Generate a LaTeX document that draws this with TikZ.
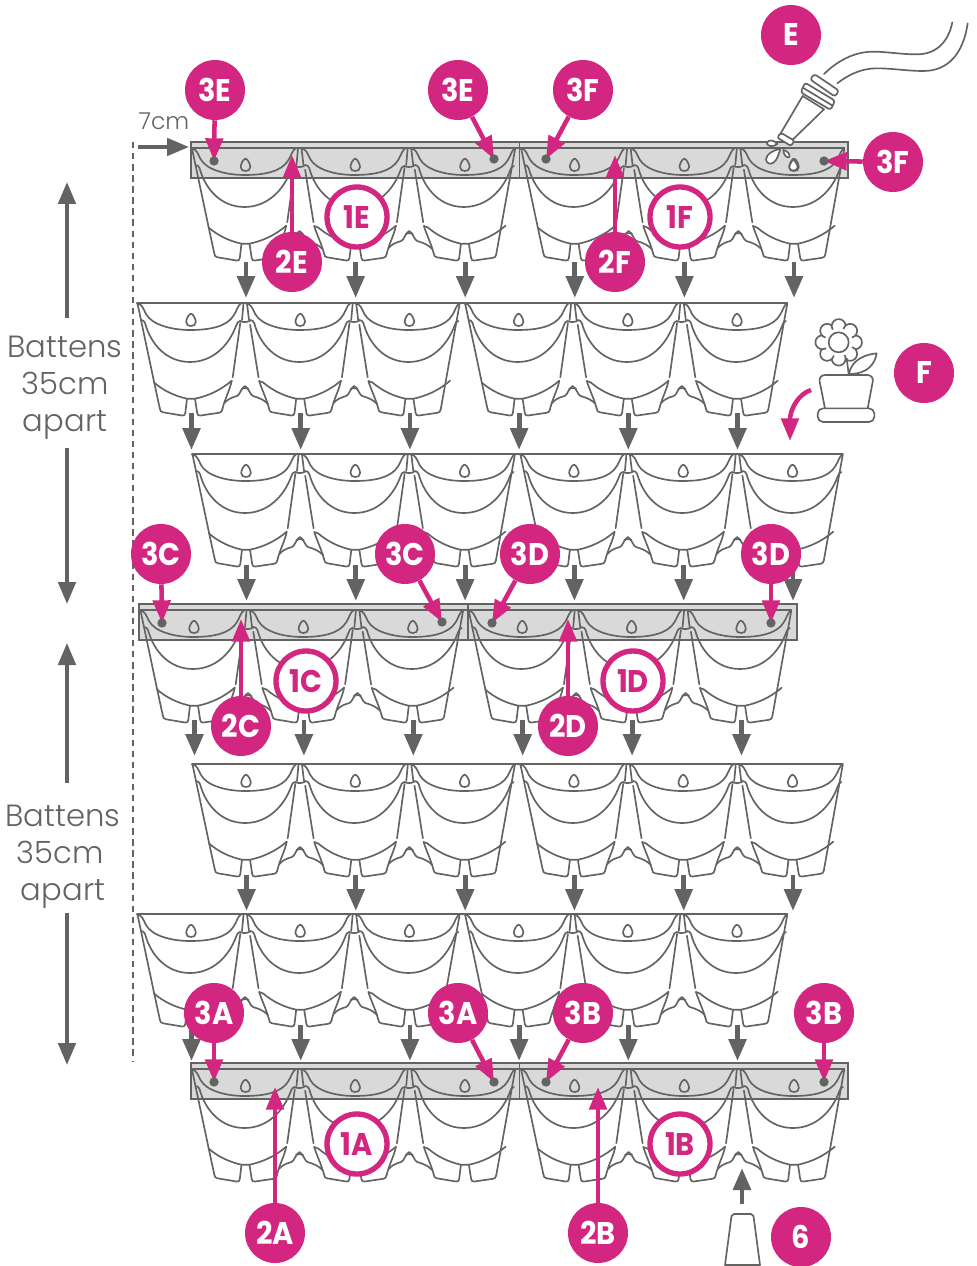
\documentclass[tikz,border=0pt]{standalone}
\usepackage{fontspec}
\setmainfont{Poppins Light}
\newfontfamily\labfont{Poppins}[FakeStretch=0.92]
\usetikzlibrary{arrows.meta}
\definecolor{pk}{HTML}{D22680}
\definecolor{gy}{HTML}{636362}
\definecolor{bt}{HTML}{D9D9D9}
\pgfdeclarelayer{holes}
\pgfsetlayers{main,holes}
\tikzset{
 pline/.style={draw=gy,line width=1.25pt,line join=round,line cap=round},
 batten/.style={draw=gy,fill=bt,line width=1.5pt},
 downarrow/.style={-{Triangle[length=16.5pt,width=13pt]},line width=3.6pt,gy},
 bigarrow/.style={-{Triangle[length=16.5pt,width=13pt]},line width=3pt,gy},
 pinkarrow/.style={-{Triangle[length=17pt,width=13pt]},line width=3.4pt,pk},
 lab/.style={circle,fill=pk,text=white,minimum size=45pt,inner sep=0pt,font=\labfont\bfseries\fontsize{23.5}{23.5}\selectfont},
 ring/.style={circle,draw=pk,fill=white,text=pk,line width=4pt,minimum size=45pt,inner sep=0pt,font=\labfont\bfseries\fontsize{23.5}{23.5}\selectfont},
 hole/.style={circle,fill=gy,minimum size=7pt,inner sep=0pt},
 gtext/.style={text=gy,font=\fontsize{23}{23}\selectfont,inner sep=0pt,anchor=base},
}
\newcommand\pocketcommon{%
 \draw[pline] (0,0.5) .. controls (5,1) and (6,5) .. (9,11) .. controls (15,22) and (35,27) .. (53,27)
   .. controls (72,27) and (90,24) .. (97,12) .. controls (100,7) and (101,2) .. (104,0.5);
 \draw[pline] (4,17) .. controls (6,17) and (7,18) .. (8,20) .. controls (14,42) and (30,59) .. (53,59)
   .. controls (76,59) and (92,42) .. (99,23) .. controls (100,20) and (101,18) .. (103,18);
 \draw[pline] (54,10.7) .. controls (56,10.7) and (58.8,16) .. (58.8,19) .. controls (58.8,22) and (56.5,23) .. (54,23)
   .. controls (51.5,23) and (49.2,22) .. (49.2,19) .. controls (49.2,16) and (52,10.7) .. (54,10.7) -- cycle;
 \draw[pline] (22.7,105) .. controls (23,108) and (24,109) .. (26,109.3) -- (45,112.5) .. controls (47,112.8) and (48,112) .. (48.3,110) -- (50,95.7) -- (58,95.7) -- (60.2,110)
   .. controls (60.5,112) and (61.5,112.8) .. (63.5,112.5) -- (82,109.8) .. controls (84,109.5) and (85,108.5) .. (85.3,106.5);
 \draw[pline] (50,95.7) .. controls (38,93) and (27,88) .. (17,79.5);
 \draw[pline] (58,95.7) .. controls (71,93) and (84,87) .. (94.7,77.7);
}
\newcommand\pocketleftend{%
 \draw[pline] (0.5,0.5) -- (17.3,80) -- (22.7,105);
}
\newcommand\pocketleftinner{%
 \draw[pline] (3.9,21.7) -- (12.3,74.3);
 \draw[pline] (13,78) .. controls (15,85) and (20,95) .. (22.7,105);
 \draw[pline] (13,78) -- (17,79.5);
}
\newcommand\pocketrightend{%
 \draw[pline] (104.3,0.5) -- (85.3,106.5);
}
\newcommand\pocketrightinner{%
 \draw[pline] (103.3,20) -- (95.7,74.3);
 \draw[pline] (94.7,77.7) .. controls (93,87) and (88,95) .. (85.3,106.5);
 \draw[pline] (106.5,0.5) -- (105,17);
 \draw[pline] (110,0.5) -- (112,17);
 \draw[pline] (103,18) .. controls (106,19.5) and (110,19.5) .. (113.4,17.5);
 \draw[pline] (87.5,100) .. controls (90,97) and (93,95) .. (100,93) .. controls (103,92) and (104,85) .. (108,83)
   .. controls (112,85) and (113,92) .. (116,93) .. controls (123,95) and (127,97) .. (131,101);
 \draw[pline] (104.5,86) .. controls (106,85) and (110,85) .. (111.5,86);
}
% x0, y0, step
\newcommand\pocketrow[3]{%
 \draw[pline] (#1,#2) -- ({#1+5*#3+104.3},#2);
 \foreach \i in {0,...,5}{
  \begin{scope}[shift={({#1+\i*#3},#2)}]
   \pocketcommon
   \ifnum\i=0 \pocketleftend\else\ifnum\i=3 \pocketleftend\else\pocketleftinner\fi\fi
   \ifnum\i=2 \pocketrightend\else\ifnum\i=5 \pocketrightend\else\pocketrightinner\fi\fi
  \end{scope}
 }
}
\newcommand\battenbar[2]{%
 \draw[batten] (#1-1,#2-6) rectangle (#1+656.5,#2+30);
 \draw[pline] (#1+328,#2-6) -- (#1+328,#2+30);
}
% x0, y start, y end, name, step
\newcommand\rowarrows[5]{%
 \foreach \i in {0,...,5}{
  \coordinate (s#4\i) at ({#1+54.5+\i*#5},#2);
  \coordinate (e#4\i) at ({#1+54.5+\i*#5},#3);
  \draw[downarrow] (s#4\i) -- (e#4\i);
 }
}
\begin{document}
\begin{tikzpicture}[x=0.75pt,y=-0.75pt]
\useasboundingbox (0,0) rectangle (976,1266);
% battens
\battenbar{191.5}{148}
\battenbar{140}{610}
\battenbar{191.5}{1069}
% pockets
\pocketrow{191.5}{148}{109.7}
\pocketrow{137}{303}{109.2}
\pocketrow{192}{454}{109.3}
\pocketrow{140}{610}{109.4}
\pocketrow{192}{764}{109.3}
\pocketrow{137}{914}{109.2}
\pocketrow{191.5}{1069}{109.7}
% down arrows
\rowarrows{191.5}{262}{298}{a}{109.6}
\rowarrows{137}{413}{450}{b}{109.2}
\rowarrows{192}{565}{601}{c}{109.3}
\rowarrows{140}{720}{756}{d}{109.4}
\rowarrows{192}{875}{911}{e}{109.3}
\rowarrows{137}{1025}{1061}{f}{109.2}
% dashed datum
\coordinate (dt) at (133,142);
\coordinate (db) at (133,1062);
\draw[gy,line width=1.6pt,dash pattern=on 4.8pt off 3.5pt] (dt) -- (db);
% 7cm
\node[gtext,font=\fontsize{17.5}{17.5}\selectfont] (sevencm) at (164,130) {7cm};
\coordinate (sevena) at (138,147);
\coordinate (sevenb) at (189,147);
\draw[bigarrow] (sevena) -- (sevenb);
% batten text
\node[gtext] (t1a) at (65,357) {Battens};
\node[gtext] (t1b) at (65,394) {35cm};
\node[gtext] (t1c) at (65,431) {apart};
\node[gtext] (t2a) at (63,826) {Battens};
\node[gtext] (t2b) at (60,863) {35cm};
\node[gtext] (t2c) at (63,900) {apart};
\coordinate (g1a) at (67,318); \coordinate (g1b) at (67,182);
\coordinate (g2a) at (67,448); \coordinate (g2b) at (67,604);
\coordinate (g3a) at (67,783); \coordinate (g3b) at (67,643);
\coordinate (g4a) at (67,913); \coordinate (g4b) at (67,1065);
\draw[bigarrow] (g1a) -- (g1b);
\draw[bigarrow] (g2a) -- (g2b);
\draw[bigarrow] (g3a) -- (g3b);
\draw[bigarrow] (g4a) -- (g4b);
% hose
\begin{scope}[shift={(700,0)},x=0.25pt,y=-0.25pt]
 \draw[pline] (757,67) .. controls (745,125) and (710,163) .. (650,163) .. controls (600,163) and (560,155) .. (520,155) .. controls (460,155) and (410,185) .. (372,222);
 \draw[pline] (803,70) .. controls (790,160) and (745,213) .. (670,213) .. controls (620,213) and (580,205) .. (530,205) .. controls (490,205) and (450,220) .. (412,250);
 \draw[pline,fill=white] (200,430) .. controls (205,418) and (220,418) .. (232,432) .. controls (222,440) and (205,442) .. (200,430) -- cycle;
 \draw[pline,fill=white] (241,447) .. controls (225,448) and (198,462) .. (198,478) .. controls (198,490) and (212,495) .. (220,488) .. controls (232,480) and (236,462) .. (241,447) -- cycle;
 \draw[pline,fill=white] (250,450) .. controls (258,450) and (272,462) .. (268,471) .. controls (262,476) and (250,465) .. (250,450) -- cycle;
 \draw[pline,fill=white] (280,477) .. controls (275,485) and (267,495) .. (268,503) .. controls (270,515) and (292,515) .. (293,502) .. controls (293,495) and (286,485) .. (280,477) -- cycle;
\end{scope}
\begin{scope}[shift={(760,60)},x=0.25pt,y=-0.25pt]
 \draw[pline,fill=white] (128,108) -- (62,220) -- (97,240) -- (192,148) -- cycle;
 \draw[pline,fill=white,rounded corners=1.5pt] (62,218) -- (103,242) -- (93,258) -- (52,233) -- cycle;
 \draw[pline,fill=white,rounded corners=2pt] (150,58) -- (163,42) -- (237,92) -- (225,110) -- cycle;
 \draw[pline,fill=white,rounded corners=2pt] (135,68) -- (225,122) -- (212,150) -- (122,97) -- cycle;
 \draw[pline] (130,84) -- (218,137);
\end{scope}
% flower
\begin{scope}[shift={(700,300)},x=0.25pt,y=-0.25pt]
 \foreach \a in {0,45,...,315}{
  \draw[pline,fill=white] (416,127) ++(\a:49) circle[radius=5.2pt];
 }
 \fill[white] (416,127) circle[radius=10.5pt];
 \draw[pline] (416,127) circle[radius=7.5pt];
 \draw[pline] (440,175) -- (446,222);
 \draw[pline,fill=white] (447,222) .. controls (452,190) and (480,165) .. (530,160) .. controls (525,190) and (505,222) .. (447,222) -- cycle;
 \draw[pline,fill=white,rounded corners=5pt] (375,325) -- (355,225) -- (522,225) -- (503,325);
 \draw[pline,fill=white,rounded corners=4pt] (353,325) rectangle (523,366);
\end{scope}
\coordinate (fa) at (811,390);
\coordinate (fb) at (790,441);
\draw[pinkarrow] (fa) .. controls (798,394) and (790,410) .. (fb);
% nozzle 6
\draw[pline] (725,1265) -- (731.5,1216) -- (734,1214) -- (751,1214) -- (753.5,1216) -- (760,1265) -- cycle;
\coordinate (six1) at (742,1204);
\coordinate (six2) at (742,1168);
\draw[downarrow] (six1) -- (six2);
% holes sit above the pink arrow tips
\begin{pgfonlayer}{holes}
\node[hole] (h1) at (214,161) {};
\node[hole] (h2) at (494,159) {};
\node[hole] (h3) at (546,159) {};
\node[hole] (h4) at (824,161) {};
\node[hole] (h5) at (162,623) {};
\node[hole] (h6) at (442,622) {};
\node[hole] (h7) at (492,623) {};
\node[hole] (h8) at (771,623) {};
\node[hole] (h9) at (214,1082) {};
\node[hole] (h10) at (494,1082) {};
\node[hole] (h11) at (546,1082) {};
\node[hole] (h12) at (824,1082) {};
\end{pgfonlayer}
% tips of the number 2 arrows
\coordinate (p2E) at (292,155);
\coordinate (p2F) at (615,155);
\coordinate (p2C) at (241,619);
\coordinate (p2D) at (568,619);
\coordinate (p2A) at (275,1087);
\coordinate (p2B) at (598,1087);
% labels
\node[lab] (l3Ea) at (215,90) {3E};
\node[lab] (l3Eb) at (458,90) {3E};
\node[lab] (l3Fa) at (583,90) {3F};
\node[lab] (l3Fb) at (893,162) {3F};
\node[lab] (lE) at (791,35) {E};
\node[lab] (lF) at (924,373) {F};
\node[lab] (l2E) at (292,262) {2E};
\node[lab] (l2F) at (615,262) {2F};
\node[lab] (l3Ca) at (161,554) {3C};
\node[lab] (l3Cb) at (405,554) {3C};
\node[lab] (l3Da) at (530,554) {3D};
\node[lab] (l3Db) at (771,554) {3D};
\node[lab] (l2C) at (241,726) {2C};
\node[lab] (l2D) at (568,726) {2D};
\node[lab] (l3Aa) at (214,1013) {3A};
\node[lab] (l3Ab) at (458,1013) {3A};
\node[lab] (l3Ba) at (583,1013) {3B};
\node[lab] (l3Bb) at (824,1013) {3B};
\node[lab] (l2A) at (275,1233) {2A};
\node[lab] (l2B) at (598,1233) {2B};
\node[lab] (l6) at (801,1237) {6};
\node[ring] (r1E) at (357,217) {1E};
\node[ring] (r1F) at (680,217) {1F};
\node[ring] (r1C) at (306,681) {1C};
\node[ring] (r1D) at (633,681) {1D};
\node[ring] (r1A) at (357,1144) {1A};
\node[ring] (r1B) at (680,1144) {1B};
% pink connectors
\draw[pinkarrow] (l3Ea) -- (h1.center);
\draw[pinkarrow] (l3Eb) -- (h2.center);
\draw[pinkarrow] (l3Fa) -- (h3.center);
\draw[pinkarrow] (l3Fb) -- (h4.center);
\draw[pinkarrow] (l3Ca) -- (h5.center);
\draw[pinkarrow] (l3Cb) -- (h6.center);
\draw[pinkarrow] (l3Da) -- (h7.center);
\draw[pinkarrow] (l3Db) -- (h8.center);
\draw[pinkarrow] (l3Aa) -- (h9.center);
\draw[pinkarrow] (l3Ab) -- (h10.center);
\draw[pinkarrow] (l3Ba) -- (h11.center);
\draw[pinkarrow] (l3Bb) -- (h12.center);
\draw[pinkarrow] (l2E) -- (p2E);
\draw[pinkarrow] (l2F) -- (p2F);
\draw[pinkarrow] (l2C) -- (p2C);
\draw[pinkarrow] (l2D) -- (p2D);
\draw[pinkarrow] (l2A) -- (p2A);
\draw[pinkarrow] (l2B) -- (p2B);
\end{tikzpicture}
\end{document}
